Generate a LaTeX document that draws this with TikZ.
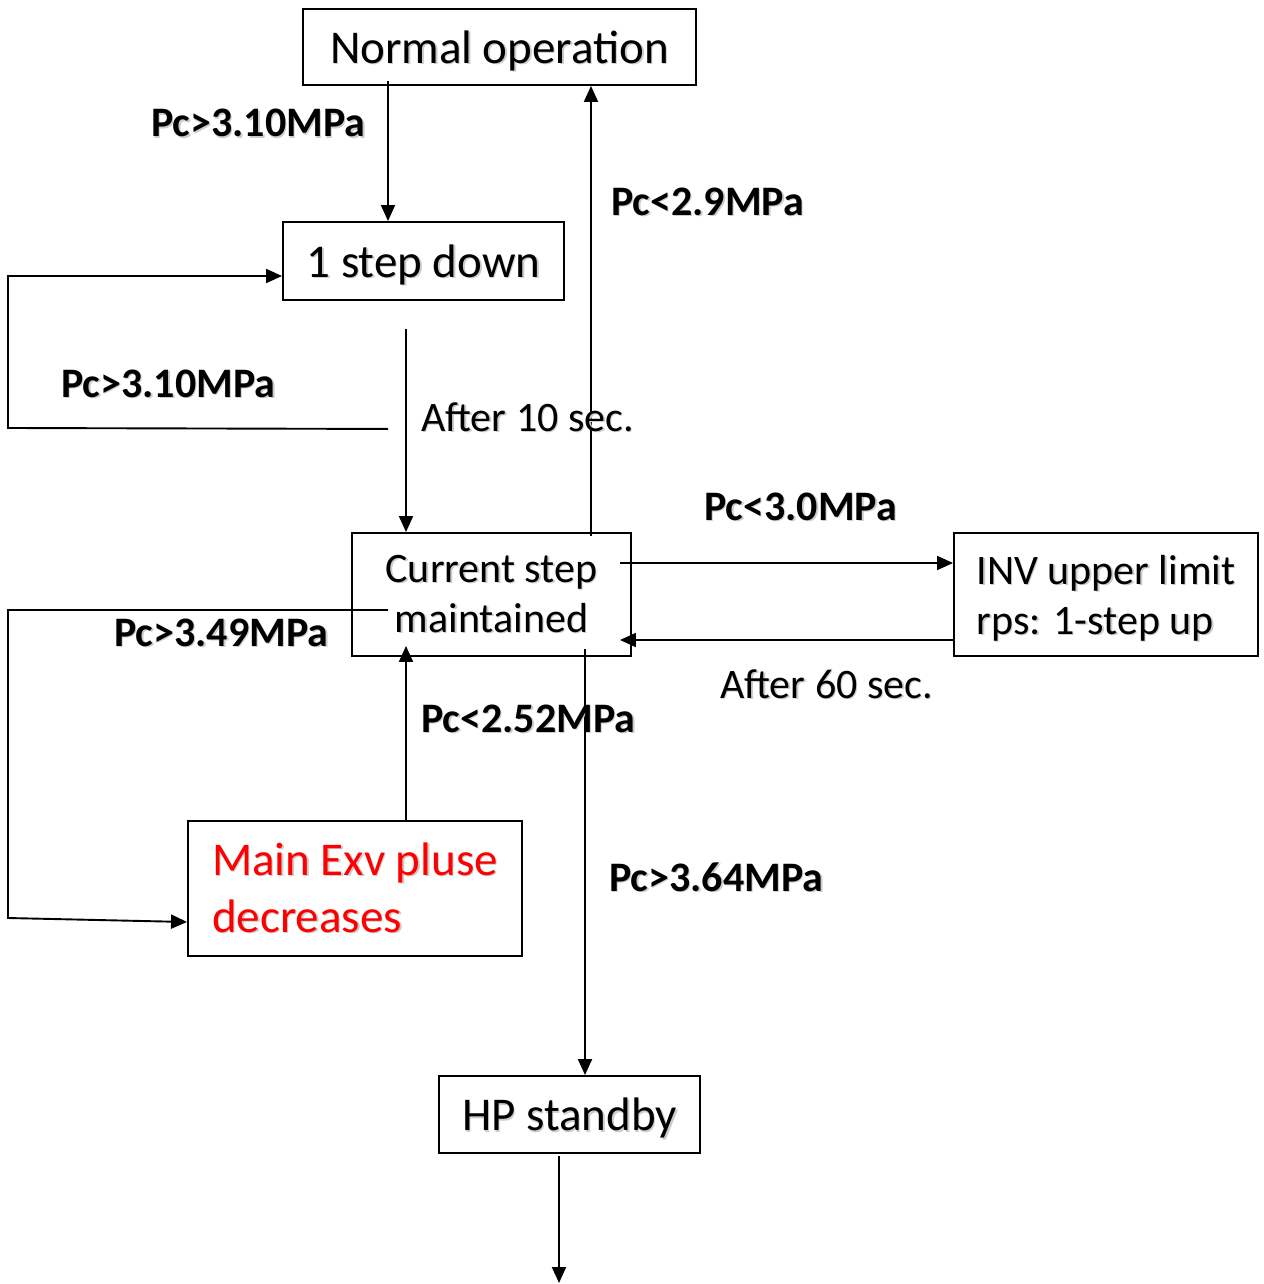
\documentclass[tikz,border=0pt]{standalone}
\usepackage{fontspec}
\setmainfont{Carlito}
\usetikzlibrary{arrows.meta}
\newcommand\shtext[1]{\leavevmode\rlap{\hspace{1.5pt}\raisebox{-1.5pt}{\textcolor{black!20}{#1}}}#1}
\begin{document}
\begin{tikzpicture}[x=1pt,y=-1pt,
  box/.style={draw, line width=1.9pt, inner sep=0pt, anchor=center},
  big/.style={font=\fontsize{47}{57}\selectfont},
  mid/.style={font=\fontsize{42}{50}\selectfont},
  lbl/.style={font=\fontsize{42}{48}\selectfont\bfseries, anchor=base west, inner sep=0pt},
  note/.style={font=\fontsize{42}{50}\selectfont, anchor=base west, inner sep=0pt},
  arr/.style={line width=1.9pt, -{Triangle[length=16pt,width=14pt]}}]
\useasboundingbox (0,0) rectangle (1263,1284);
% boxes
\node[box, big, text depth=0pt, minimum width=393pt, minimum height=76pt] (norm) at (499.5,47) {\shtext{Normal operation}};
\node[box, big, text depth=0pt, minimum width=281pt, minimum height=78pt] (down) at (423.5,261) {\shtext{1 step down}};
\node[box, mid, align=center, minimum width=279pt, minimum height=123pt] (cur) at (491.5,594.5) {\shtext{Current step}\\\shtext{maintained}};
\node[box, mid, align=left, text depth=0pt, minimum width=304pt, minimum height=123pt] (inv) at (1106,594.5) {\shtext{INV upper limit}\\\shtext{rps: 1-step up}};
\node[box, big, align=left, text=red, minimum width=334pt, minimum height=135pt] (exv) at (355,888.5) {\shtext{Main Exv pluse}\\\shtext{decreases}};
\node[box, big, text depth=0pt, minimum width=261pt, minimum height=77pt] (hp) at (569.5,1114.5) {\shtext{HP standby}};
\coordinate (out) at (559,1283);
% connectors
\draw[arr] ([xshift=-111.5pt,yshift=5pt]norm.south) -- ([xshift=-35.5pt]down.north);
\draw[arr] ([xshift=99.5pt,yshift=-4pt]cur.north) -- ([xshift=91.5pt]norm.south);
\draw[arr] ([xshift=-17.5pt,yshift=-28pt]down.south) -- ([xshift=-85.5pt]cur.north);
\draw[arr] ([xshift=-35.5pt,yshift=-128pt]down.south) -- (8,428) -- (8,276) -- ([yshift=-15pt]down.west);
\draw[arr] ([xshift=-12pt,yshift=31.5pt]cur.east) -- ([yshift=31.5pt]inv.west);
\draw[arr] ([yshift=-45.5pt]inv.west) -- ([xshift=-12pt,yshift=-45.5pt]cur.east);
\draw[arr] ([xshift=93.5pt,yshift=8pt]cur.south) -- ([xshift=15.5pt]hp.north);
\draw[arr] ([xshift=51pt]exv.north) -- ([xshift=-85.5pt,yshift=11pt]cur.south);
\draw[arr] ([xshift=-103.5pt,yshift=-15.5pt]cur.center) -- (8,610) -- (8,918) -- ([yshift=-33.5pt]exv.west);
\draw[arr] ([xshift=-10.5pt,yshift=-2pt]hp.south) -- (out);
% labels
\node[lbl] (l1) at (151,137) {\shtext{Pc>3.10MPa}};
\node[lbl] (l2) at (611,215) {\shtext{Pc<2.9MPa}};
\node[lbl] (l3) at (61,397) {\shtext{Pc>3.10MPa}};
\node[note] (l4) at (421,431) {\shtext{After 10 sec.}};
\node[lbl] (l5) at (704,520) {\shtext{Pc<3.0MPa}};
\node[lbl] (l6) at (114,646) {\shtext{Pc>3.49MPa}};
\node[note] (l7) at (720,698) {\shtext{After 60 sec.}};
\node[lbl] (l8) at (421,732) {\shtext{Pc<2.52MPa}};
\node[lbl] (l9) at (609,891) {\shtext{Pc>3.64MPa}};
\end{tikzpicture}
\end{document}
